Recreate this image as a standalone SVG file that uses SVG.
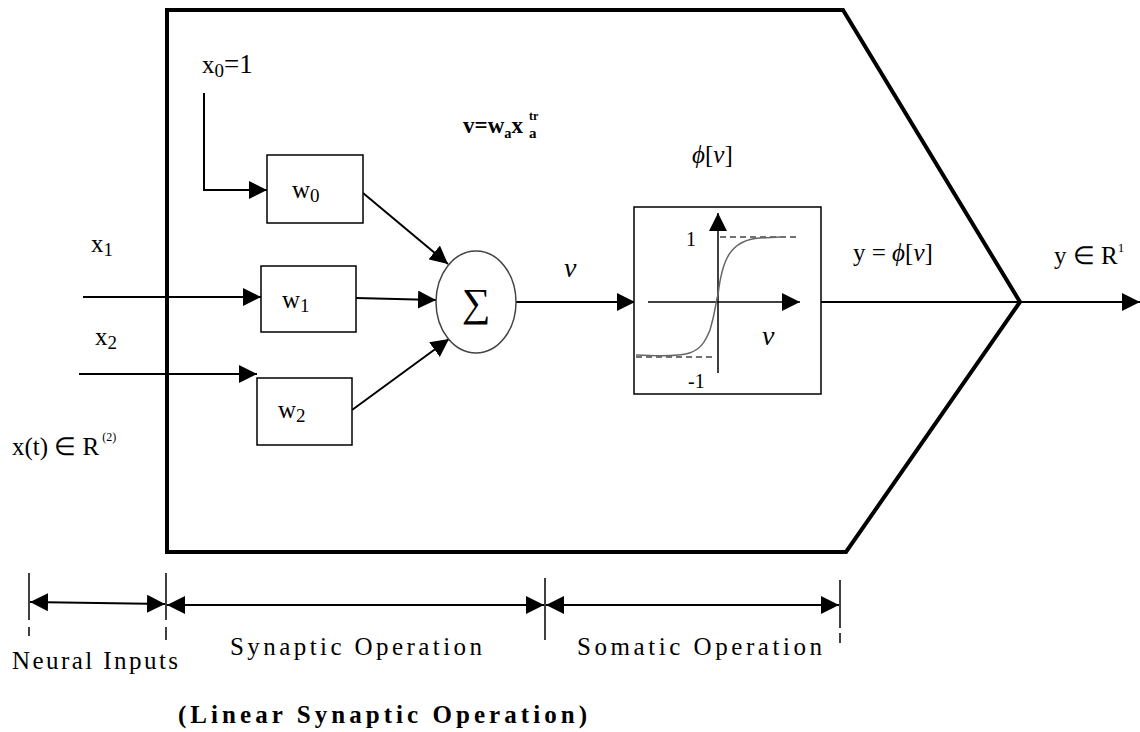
<svg xmlns="http://www.w3.org/2000/svg" width="1140" height="732" viewBox="0 0 1140 732">
<defs>
<marker id="ahb" viewBox="0 0 10 10" refX="10" refY="5" markerWidth="18" markerHeight="18" markerUnits="userSpaceOnUse" orient="auto-start-reverse">
<path d="M0,0 L10,5 L0,10 Z" fill="#000"/>
</marker>
<marker id="ahm" viewBox="0 0 10 10" refX="10" refY="5" markerWidth="18" markerHeight="18" markerUnits="userSpaceOnUse" orient="auto">
<path d="M0,0 L10,5 L0,10 Z" fill="#000"/>
</marker>
</defs>
<style>
text{font-family:Liberation Serif,Tinos,Times New Roman,Noto Serif,serif;fill:#000}
.t{font-size:25px}
.box{fill:#fff;stroke:#000;stroke-width:1.5}
.ln{fill:none;stroke:#000;stroke-width:2;marker-end:url(#ahm)}
.dim{fill:none;stroke:#000;stroke-width:2;marker-start:url(#ahb);marker-end:url(#ahb)}
.tick{stroke:#000;stroke-width:1.5}
.dash{stroke:#444;stroke-width:1.5;stroke-dasharray:6,4;fill:none}
</style>
<g id="neuron-body">
<path d="M167,10 L843,10 L1020,302 L846,552 L167,552 Z" fill="none" stroke="#000" stroke-width="4" stroke-linejoin="miter"/>
</g>
<g id="connectors">
<path class="ln" d="M204,93 L204,190 L267,190"/>
<path class="ln" d="M83,297 L261,297"/>
<path class="ln" d="M79,374 L257,374"/>
<path class="ln" d="M363,193 L448,264"/>
<path class="ln" d="M356,298 L436,300"/>
<path class="ln" d="M352,410 L449,339"/>
<path class="ln" d="M516,302 L635,302"/>
<path class="ln" d="M821,302 L1140,302"/>
</g>
<g id="w0"><rect class="box" x="267" y="155" width="96" height="68"/><text class="t" x="292" y="198">w<tspan font-size="19" dy="4">0</tspan></text></g>
<g id="w1"><rect class="box" x="261" y="266" width="95" height="66"/><text class="t" x="282" y="308">w<tspan font-size="19" dy="4">1</tspan></text></g>
<g id="w2"><rect class="box" x="257" y="378" width="95" height="67"/><text class="t" x="278" y="418">w<tspan font-size="19" dy="4">2</tspan></text></g>
<g id="sum"><ellipse cx="476" cy="302" rx="40" ry="51" fill="#fff" stroke="#444" stroke-width="1.5"/><text x="476" y="316" font-size="40" text-anchor="middle">∑</text></g>
<g id="activation">
<rect x="634" y="207" width="187" height="187" fill="#fff" stroke="#000" stroke-width="1.5"/>
<line x1="718" y1="373" x2="718" y2="213" stroke="#000" stroke-width="1.5" marker-end="url(#ahm)"/>
<line x1="648" y1="302" x2="800" y2="302" stroke="#000" stroke-width="1.5" marker-end="url(#ahm)"/>
<line class="dash" x1="720" y1="237" x2="798" y2="237"/>
<line class="dash" x1="636" y1="357" x2="716" y2="357"/>
<path d="M636,355 C690,358 700,355 710,330 C716,310 716,300 718,295 C722,260 730,240 760,238 L780,237" fill="none" stroke="#666" stroke-width="1.5"/>
<text x="686" y="246" font-size="20">1</text>
<text x="688" y="388" font-size="20">-1</text>
<text x="762" y="345" font-size="28" font-style="italic">v</text>
</g>
<g id="labels">
<text class="t" x="202" y="73">x<tspan font-size="19" dy="4">0</tspan><tspan dy="-4" font-size="27">=1</tspan></text>
<text x="463" y="133" font-size="24" font-weight="bold" textLength="60" lengthAdjust="spacingAndGlyphs">v=w<tspan font-size="15" dy="5">a</tspan><tspan dy="-5">x</tspan></text>
<text x="529" y="138" font-size="15" font-weight="bold">a</text>
<text x="529" y="120" font-size="12" font-weight="bold">tr</text>
<text x="692" y="163" font-size="25"><tspan font-style="italic">ϕ</tspan>[<tspan font-style="italic">v</tspan>]</text>
<text x="564" y="277" font-size="28" font-style="italic">v</text>
<text x="853" y="261" font-size="25">y = <tspan font-style="italic">ϕ</tspan>[<tspan font-style="italic">v</tspan>]</text>
<text x="1054" y="264" font-size="25">y ∈ R<tspan font-size="13" dy="-12">1</tspan></text>
<text x="91" y="252" font-size="25">x<tspan font-size="19" dy="4">1</tspan></text>
<text x="95" y="345" font-size="25">x<tspan font-size="19" dy="4">2</tspan></text>
<text x="12" y="455" font-size="25">x(t) ∈ R<tspan font-size="12" dy="-14"> (2)</tspan></text>
</g>
<g id="dimensions">
<line class="tick" x1="29" y1="573" x2="29" y2="620"/><line class="tick" x1="29" y1="627" x2="29" y2="636"/>
<line class="tick" x1="166" y1="573" x2="166" y2="620"/><line class="tick" x1="166" y1="627" x2="166" y2="640"/>
<line class="tick" x1="545" y1="578" x2="545" y2="640"/>
<line class="tick" x1="840" y1="580" x2="840" y2="628"/><line class="tick" x1="840" y1="633" x2="840" y2="643"/>
<line class="dim" x1="30" y1="602" x2="165" y2="604"/>
<line class="dim" x1="167" y1="605" x2="544" y2="605"/>
<line class="dim" x1="546" y1="605" x2="839" y2="605"/>
<text x="12" y="669" font-size="25" textLength="166" lengthAdjust="spacing">Neural Inputs</text>
<text x="230" y="655" font-size="25" textLength="252" lengthAdjust="spacing">Synaptic Operation</text>
<text x="577" y="655" font-size="25" textLength="245" lengthAdjust="spacing">Somatic Operation</text>
<text x="178" y="723" font-size="25" font-weight="bold" textLength="409" lengthAdjust="spacing">(Linear Synaptic Operation)</text>
</g>
</svg>
